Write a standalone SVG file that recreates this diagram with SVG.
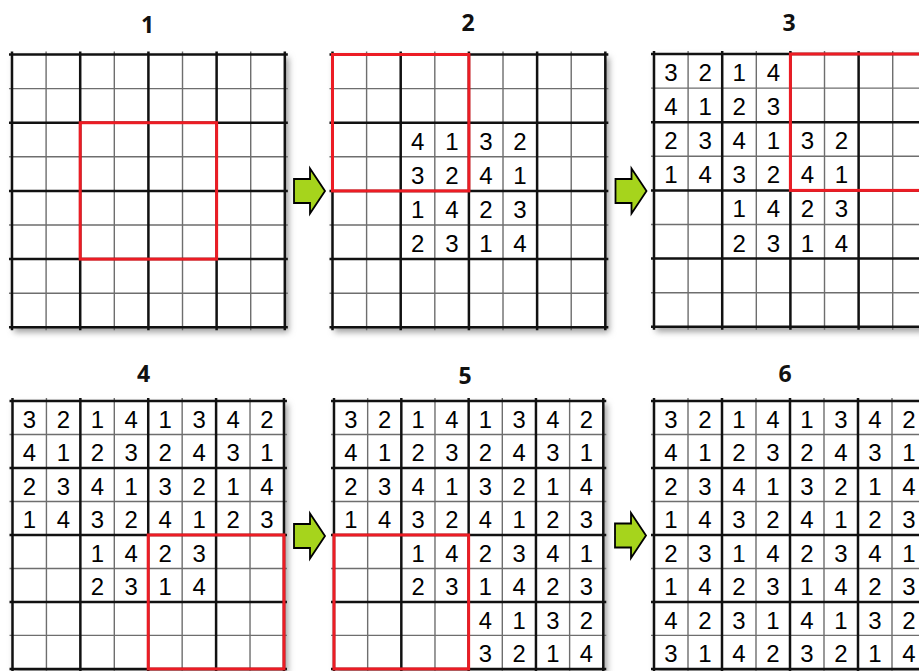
<svg xmlns="http://www.w3.org/2000/svg" xmlns:xlink="http://www.w3.org/1999/xlink" width="919" height="671" viewBox="0 0 919 671">
<style>
.thin{fill:none;stroke:#6e6e6e;stroke-width:1.4}
.thick{fill:none;stroke:#111;stroke-width:2.5}
.red{fill:none;stroke:#ec1c24;stroke-width:3}
.d{font-family:"Liberation Sans",Arial,sans-serif;font-size:24px;fill:#000;text-anchor:middle}
.lbl{font-family:"Open Sans","Liberation Sans",sans-serif;font-weight:bold;font-size:23px;fill:#111;text-anchor:middle}
.arrow{fill:#a6d41c;stroke:#000;stroke-width:1.8;stroke-linejoin:miter}
</style>
<defs>
<filter id="sh" x="-10%" y="-10%" width="130%" height="130%"><feGaussianBlur stdDeviation="3"/></filter>
<g id="grid">
<rect x="2" y="3" width="274" height="274" fill="#a0a0a0" filter="url(#sh)"/>
<rect x="0" y="0" width="272" height="272" fill="#fff"/>
<path class="thin" d="M34 -3V275M102 -3V275M170 -3V275M238 -3V275M-3 34H275M-3 102H275M-3 170H275M-3 238H275"/>
<path class="thick" d="M0 -3V275M68 -3V275M136 -3V275M204 -3V275M272 -3V275M-3 0H275M-3 68H275M-3 136H275M-3 204H275M-3 272H275"/>
</g>
<path id="arr" d="M0 10.5H16V0L31 22.5L16 45V34.5H0Z"/>
</defs>
<rect width="919" height="671" fill="#fff"/>

<g id="label1"><text class="lbl" x="147.5" y="33">1</text></g>
<g id="label2"><text class="lbl" x="468" y="31">2</text></g>
<g id="label3"><text class="lbl" x="789" y="31">3</text></g>
<g id="label4"><text class="lbl" x="143.5" y="382">4</text></g>
<g id="label5"><text class="lbl" x="465" y="384">5</text></g>
<g id="label6"><text class="lbl" x="785" y="382">6</text></g>

<g id="grid1" transform="translate(12,54.5) scale(1.003)">
<use xlink:href="#grid"/>
<rect class="red" x="68" y="68" width="136" height="136"/>
</g>

<g id="grid2" transform="translate(332.5,54.5) scale(1.003)">
<use xlink:href="#grid"/>
<g transform="translate(0,1)">
<text class="d" x="85" y="94">4</text><text class="d" x="119" y="94">1</text><text class="d" x="153" y="94">3</text><text class="d" x="187" y="94">2</text>
<text class="d" x="85" y="128">3</text><text class="d" x="119" y="128">2</text><text class="d" x="153" y="128">4</text><text class="d" x="187" y="128">1</text>
<text class="d" x="85" y="162">1</text><text class="d" x="119" y="162">4</text><text class="d" x="153" y="162">2</text><text class="d" x="187" y="162">3</text>
<text class="d" x="85" y="196">2</text><text class="d" x="119" y="196">3</text><text class="d" x="153" y="196">1</text><text class="d" x="187" y="196">4</text>
</g>
<rect class="red" x="0" y="0" width="136" height="136"/>
</g>

<g id="grid3" transform="translate(654,54) scale(1.003)">
<use xlink:href="#grid"/>
<g transform="translate(0,1)">
<text class="d" x="17" y="26">3</text><text class="d" x="51" y="26">2</text><text class="d" x="85" y="26">1</text><text class="d" x="119" y="26">4</text>
<text class="d" x="17" y="60">4</text><text class="d" x="51" y="60">1</text><text class="d" x="85" y="60">2</text><text class="d" x="119" y="60">3</text>
<text class="d" x="17" y="94">2</text><text class="d" x="51" y="94">3</text><text class="d" x="85" y="94">4</text><text class="d" x="119" y="94">1</text><text class="d" x="153" y="94">3</text><text class="d" x="187" y="94">2</text>
<text class="d" x="17" y="128">1</text><text class="d" x="51" y="128">4</text><text class="d" x="85" y="128">3</text><text class="d" x="119" y="128">2</text><text class="d" x="153" y="128">4</text><text class="d" x="187" y="128">1</text>
<text class="d" x="85" y="162">1</text><text class="d" x="119" y="162">4</text><text class="d" x="153" y="162">2</text><text class="d" x="187" y="162">3</text>
<text class="d" x="85" y="196">2</text><text class="d" x="119" y="196">3</text><text class="d" x="153" y="196">1</text><text class="d" x="187" y="196">4</text>
</g>
<rect class="red" x="136" y="0" width="136" height="136"/>
</g>

<g id="grid4" transform="translate(12.5,401) scale(0.998,0.985)">
<use xlink:href="#grid"/>
<g transform="translate(0,1)">
<text class="d" x="17" y="26">3</text><text class="d" x="51" y="26">2</text><text class="d" x="85" y="26">1</text><text class="d" x="119" y="26">4</text><text class="d" x="153" y="26">1</text><text class="d" x="187" y="26">3</text><text class="d" x="221" y="26">4</text><text class="d" x="255" y="26">2</text>
<text class="d" x="17" y="60">4</text><text class="d" x="51" y="60">1</text><text class="d" x="85" y="60">2</text><text class="d" x="119" y="60">3</text><text class="d" x="153" y="60">2</text><text class="d" x="187" y="60">4</text><text class="d" x="221" y="60">3</text><text class="d" x="255" y="60">1</text>
<text class="d" x="17" y="94">2</text><text class="d" x="51" y="94">3</text><text class="d" x="85" y="94">4</text><text class="d" x="119" y="94">1</text><text class="d" x="153" y="94">3</text><text class="d" x="187" y="94">2</text><text class="d" x="221" y="94">1</text><text class="d" x="255" y="94">4</text>
<text class="d" x="17" y="128">1</text><text class="d" x="51" y="128">4</text><text class="d" x="85" y="128">3</text><text class="d" x="119" y="128">2</text><text class="d" x="153" y="128">4</text><text class="d" x="187" y="128">1</text><text class="d" x="221" y="128">2</text><text class="d" x="255" y="128">3</text>
<text class="d" x="85" y="162">1</text><text class="d" x="119" y="162">4</text><text class="d" x="153" y="162">2</text><text class="d" x="187" y="162">3</text>
<text class="d" x="85" y="196">2</text><text class="d" x="119" y="196">3</text><text class="d" x="153" y="196">1</text><text class="d" x="187" y="196">4</text>
</g>
<rect class="red" x="136" y="136" width="136" height="136"/>
</g>

<g id="grid5" transform="translate(334,401) scale(0.99,0.985)">
<use xlink:href="#grid"/>
<g transform="translate(0,1)">
<text class="d" x="17" y="26">3</text><text class="d" x="51" y="26">2</text><text class="d" x="85" y="26">1</text><text class="d" x="119" y="26">4</text><text class="d" x="153" y="26">1</text><text class="d" x="187" y="26">3</text><text class="d" x="221" y="26">4</text><text class="d" x="255" y="26">2</text>
<text class="d" x="17" y="60">4</text><text class="d" x="51" y="60">1</text><text class="d" x="85" y="60">2</text><text class="d" x="119" y="60">3</text><text class="d" x="153" y="60">2</text><text class="d" x="187" y="60">4</text><text class="d" x="221" y="60">3</text><text class="d" x="255" y="60">1</text>
<text class="d" x="17" y="94">2</text><text class="d" x="51" y="94">3</text><text class="d" x="85" y="94">4</text><text class="d" x="119" y="94">1</text><text class="d" x="153" y="94">3</text><text class="d" x="187" y="94">2</text><text class="d" x="221" y="94">1</text><text class="d" x="255" y="94">4</text>
<text class="d" x="17" y="128">1</text><text class="d" x="51" y="128">4</text><text class="d" x="85" y="128">3</text><text class="d" x="119" y="128">2</text><text class="d" x="153" y="128">4</text><text class="d" x="187" y="128">1</text><text class="d" x="221" y="128">2</text><text class="d" x="255" y="128">3</text>
<text class="d" x="85" y="162">1</text><text class="d" x="119" y="162">4</text><text class="d" x="153" y="162">2</text><text class="d" x="187" y="162">3</text><text class="d" x="221" y="162">4</text><text class="d" x="255" y="162">1</text>
<text class="d" x="85" y="196">2</text><text class="d" x="119" y="196">3</text><text class="d" x="153" y="196">1</text><text class="d" x="187" y="196">4</text><text class="d" x="221" y="196">2</text><text class="d" x="255" y="196">3</text>
<text class="d" x="153" y="230">4</text><text class="d" x="187" y="230">1</text><text class="d" x="221" y="230">3</text><text class="d" x="255" y="230">2</text>
<text class="d" x="153" y="264">3</text><text class="d" x="187" y="264">2</text><text class="d" x="221" y="264">1</text><text class="d" x="255" y="264">4</text>
</g>
<rect class="red" x="0" y="136" width="136" height="136"/>
</g>

<g id="grid6" transform="translate(654,401) scale(1,0.985)">
<use xlink:href="#grid"/>
<g transform="translate(0,1)">
<text class="d" x="17" y="26">3</text><text class="d" x="51" y="26">2</text><text class="d" x="85" y="26">1</text><text class="d" x="119" y="26">4</text><text class="d" x="153" y="26">1</text><text class="d" x="187" y="26">3</text><text class="d" x="221" y="26">4</text><text class="d" x="255" y="26">2</text>
<text class="d" x="17" y="60">4</text><text class="d" x="51" y="60">1</text><text class="d" x="85" y="60">2</text><text class="d" x="119" y="60">3</text><text class="d" x="153" y="60">2</text><text class="d" x="187" y="60">4</text><text class="d" x="221" y="60">3</text><text class="d" x="255" y="60">1</text>
<text class="d" x="17" y="94">2</text><text class="d" x="51" y="94">3</text><text class="d" x="85" y="94">4</text><text class="d" x="119" y="94">1</text><text class="d" x="153" y="94">3</text><text class="d" x="187" y="94">2</text><text class="d" x="221" y="94">1</text><text class="d" x="255" y="94">4</text>
<text class="d" x="17" y="128">1</text><text class="d" x="51" y="128">4</text><text class="d" x="85" y="128">3</text><text class="d" x="119" y="128">2</text><text class="d" x="153" y="128">4</text><text class="d" x="187" y="128">1</text><text class="d" x="221" y="128">2</text><text class="d" x="255" y="128">3</text>
<text class="d" x="17" y="162">2</text><text class="d" x="51" y="162">3</text><text class="d" x="85" y="162">1</text><text class="d" x="119" y="162">4</text><text class="d" x="153" y="162">2</text><text class="d" x="187" y="162">3</text><text class="d" x="221" y="162">4</text><text class="d" x="255" y="162">1</text>
<text class="d" x="17" y="196">1</text><text class="d" x="51" y="196">4</text><text class="d" x="85" y="196">2</text><text class="d" x="119" y="196">3</text><text class="d" x="153" y="196">1</text><text class="d" x="187" y="196">4</text><text class="d" x="221" y="196">2</text><text class="d" x="255" y="196">3</text>
<text class="d" x="17" y="230">4</text><text class="d" x="51" y="230">2</text><text class="d" x="85" y="230">3</text><text class="d" x="119" y="230">1</text><text class="d" x="153" y="230">4</text><text class="d" x="187" y="230">1</text><text class="d" x="221" y="230">3</text><text class="d" x="255" y="230">2</text>
<text class="d" x="17" y="264">3</text><text class="d" x="51" y="264">1</text><text class="d" x="85" y="264">4</text><text class="d" x="119" y="264">2</text><text class="d" x="153" y="264">3</text><text class="d" x="187" y="264">2</text><text class="d" x="221" y="264">1</text><text class="d" x="255" y="264">4</text>
</g>
</g>

<g id="connectors">
<use class="arrow" xlink:href="#arr" transform="translate(294,168.5)"/>
<use class="arrow" xlink:href="#arr" transform="translate(615.5,168.5)"/>
<use class="arrow" xlink:href="#arr" transform="translate(294,513.5)"/>
<use class="arrow" xlink:href="#arr" transform="translate(615,513)"/>
</g>
</svg>
